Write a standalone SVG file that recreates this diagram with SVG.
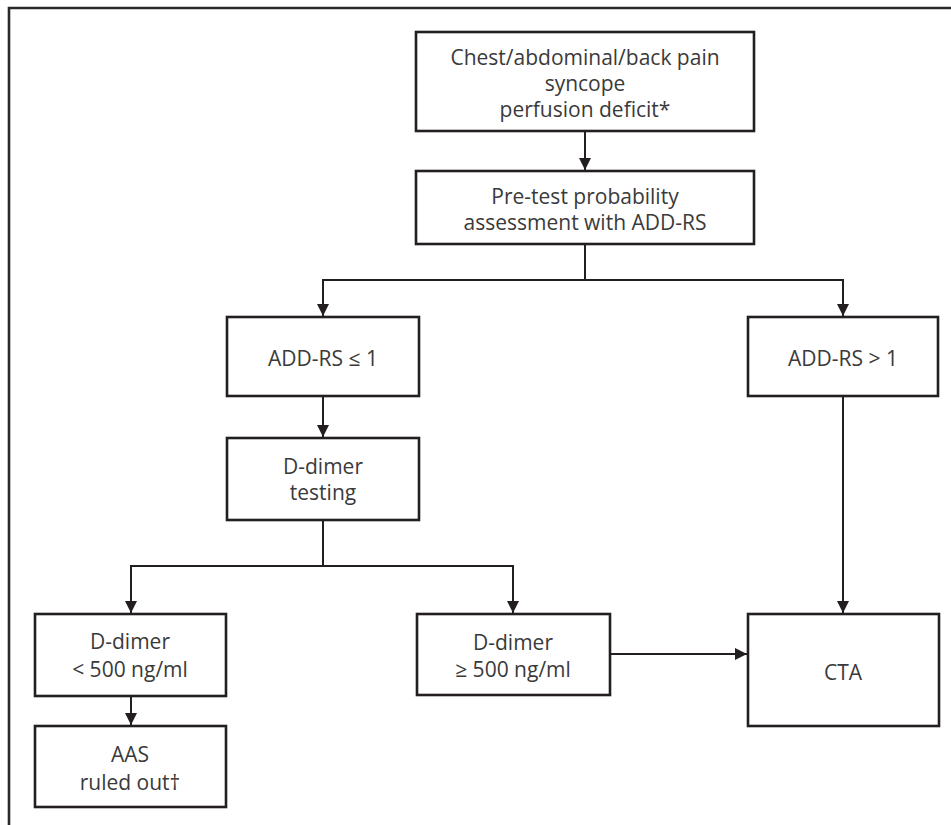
<svg xmlns="http://www.w3.org/2000/svg" width="951" height="825" viewBox="0 0 951 825">
<defs>
<style>
.box{fill:#fff;stroke:#231f20;stroke-width:2.6}
.t{font-family:"Open Sans","Liberation Sans",sans-serif;font-size:21px;fill:#3a3a3a;text-anchor:middle}
.c{fill:none;stroke:#231f20;stroke-width:2}
</style>
<marker id="ah" viewBox="0 0 12 12" refX="12" refY="6" markerWidth="12" markerHeight="12" markerUnits="userSpaceOnUse" orient="auto">
<path d="M0,0 L12,6 L0,12 Z" fill="#231f20"/>
</marker>
</defs>
<rect width="951" height="825" fill="#fff"/>
<path d="M9,825 V8 H951" fill="none" stroke="#2a2a2a" stroke-width="2.6"/>
<g id="connectors">
<path class="c" d="M585,131 V170" marker-end="url(#ah)"/>
<path class="c" d="M585,244 V280 H323 V316" marker-end="url(#ah)"/>
<path class="c" d="M585,280 H843 V316" marker-end="url(#ah)"/>
<path class="c" d="M323,396 V437" marker-end="url(#ah)"/>
<path class="c" d="M323,520 V566 H131 V613" marker-end="url(#ah)"/>
<path class="c" d="M323,566 H513 V613" marker-end="url(#ah)"/>
<path class="c" d="M843,396 V613" marker-end="url(#ah)"/>
<path class="c" d="M610,654 H747" marker-end="url(#ah)"/>
<path class="c" d="M131,696 V725" marker-end="url(#ah)"/>
</g>
<g id="n1"><rect class="box" x="416" y="32" width="338" height="99"/>
<text class="t" x="585" y="65">Chest/abdominal/back pain</text>
<text class="t" x="585" y="91">syncope</text>
<text class="t" x="585" y="117">perfusion deficit*</text></g>
<g id="n2"><rect class="box" x="416" y="171" width="338" height="73"/>
<text class="t" x="585" y="204">Pre-test probability</text>
<text class="t" x="585" y="230">assessment with ADD-RS</text></g>
<g id="n3"><rect class="box" x="227" y="317" width="192" height="79"/>
<text class="t" x="323" y="366">ADD-RS ≤ 1</text></g>
<g id="n4"><rect class="box" x="748" y="317" width="190" height="79"/>
<text class="t" x="843" y="366">ADD-RS &gt; 1</text></g>
<g id="n5"><rect class="box" x="227" y="438" width="192" height="82"/>
<text class="t" x="323" y="474">D-dimer</text>
<text class="t" x="323" y="500">testing</text></g>
<g id="n6"><rect class="box" x="35" y="614" width="191" height="82"/>
<text class="t" x="130" y="649">D-dimer</text>
<text class="t" x="130" y="677">&lt; 500 ng/ml</text></g>
<g id="n7"><rect class="box" x="35" y="726" width="191" height="81"/>
<text class="t" x="130" y="762">AAS</text>
<text class="t" x="130" y="790">ruled out†</text></g>
<g id="n8"><rect class="box" x="417" y="614" width="193" height="81"/>
<text class="t" x="513" y="650">D-dimer</text>
<text class="t" x="513" y="677">≥ 500 ng/ml</text></g>
<g id="n9"><rect class="box" x="748" y="614" width="191" height="112"/>
<text class="t" x="843" y="680">CTA</text></g>
</svg>
